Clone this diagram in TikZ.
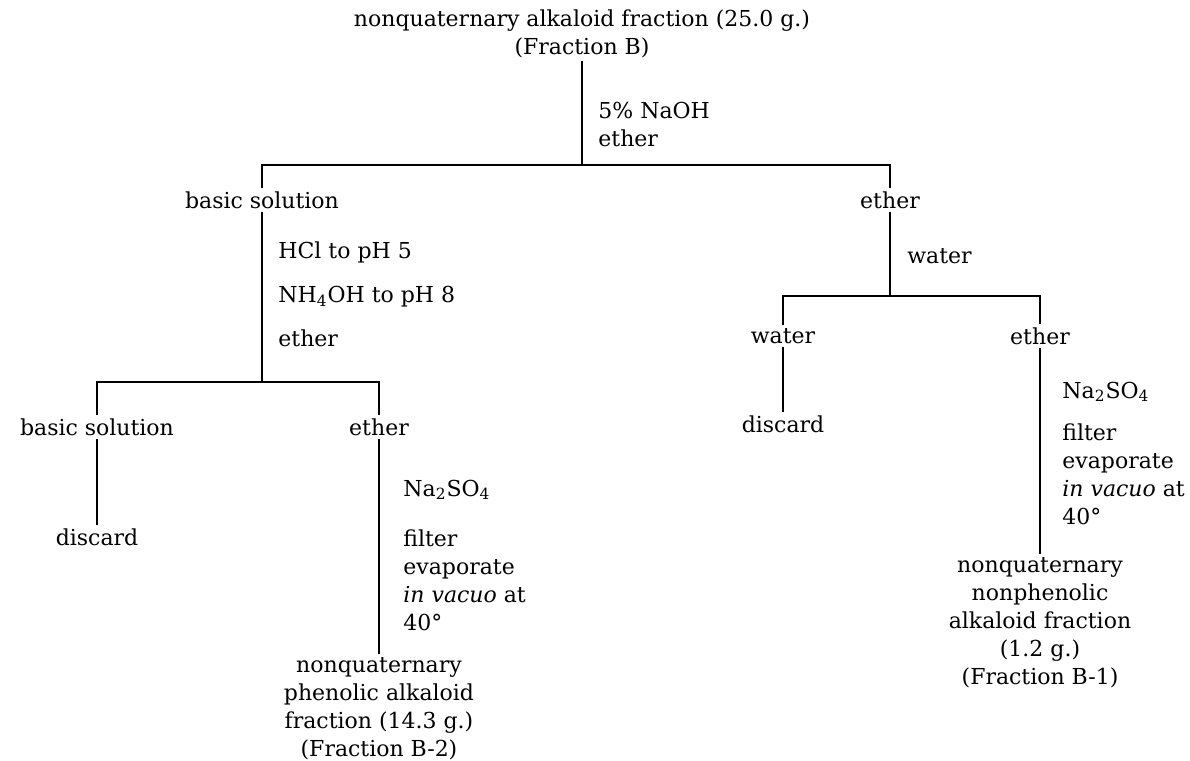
\documentclass[tikz,border=0pt]{standalone}
\usepackage{fontspec}
\setmainfont{DejaVu Serif}
\begin{document}
\begin{tikzpicture}[x=0.5pt,y=-0.5pt]

% --- Stijlen ---
\tikzset{
    laag/.style={
        font=\fontsize{11}{14}\selectfont,
        align=center,
        inner sep=1.5pt
    },
    reagens/.style={
        font=\fontsize{11}{14}\selectfont,
        align=left,
        anchor=west,
        inner sep=1.5pt
    },
    lijn/.style={
        line width=0.7pt,
        draw=black
    }
}

\useasboundingbox (0,0) rectangle (1190,761);

% --- Knooppunten ---
\node[laag] (start) at (582,34) {nonquaternary alkaloid fraction (25.0 g.)\\(Fraction B)};
\node[laag] (bs1) at (262,200) {basic solution};
\node[laag] (et1) at (890,200) {ether};
\node[laag] (bs2) at (97,427) {basic solution};
\node[laag] (et2) at (379,427) {ether};
\node[laag] (dc1) at (97,537) {discard};
\node[laag] (res2) at (379,709) {nonquaternary\\phenolic alkaloid\\fraction (14.3 g.)\\(Fraction B-2)};
\node[laag] (wa) at (783,336) {water};
\node[laag] (et3) at (1040,336) {ether};
\node[laag] (dc2) at (783,424) {discard};
\node[laag] (res1) at (1040,623) {nonquaternary\\nonphenolic\\alkaloid fraction\\(1.2 g.)\\(Fraction B-1)};

% splitsingen
\coordinate (sp1) at (582,165);
\coordinate (sp2) at (262,382);
\coordinate (sp3) at (890,296);

% --- Reagentia ---
\node[reagens] (r1) at (595,124) {5\% NaOH\\ether};
\node[reagens] (r2) at (275,294) {HCl to pH 5\\[8pt]NH\textsubscript{4}OH to pH 8\\[8pt]ether};
\node[reagens] (r3) at (904,256) {water};
\node[reagens] (r4) at (400,555) {Na\textsubscript{2}SO\textsubscript{4}\\[11pt]filter\\evaporate\\\textit{in vacuo} at\\40°};
\node[reagens] (r5) at (1059,453) {Na\textsubscript{2}SO\textsubscript{4}\\[7pt]filter\\evaporate\\\textit{in vacuo} at\\40°};

% --- Lijnen ---
\draw[lijn] (start.south) -- (sp1);
\draw[lijn] (bs1.north) |- (sp1) -| (et1.north);
\draw[lijn] (bs1.south) -- (sp2);
\draw[lijn] (bs2.north) |- (sp2) -| (et2.north);
\draw[lijn] (bs2.south) -- (dc1.north);
\draw[lijn] (et2.south) -- (res2.north);
\draw[lijn] (et1.south) -- (sp3);
\draw[lijn] (wa.north) |- (sp3) -| (et3.north);
\draw[lijn] (wa.south) -- (dc2.north);
\draw[lijn] (et3.south) -- (res1.north);
\end{tikzpicture}
\end{document}
